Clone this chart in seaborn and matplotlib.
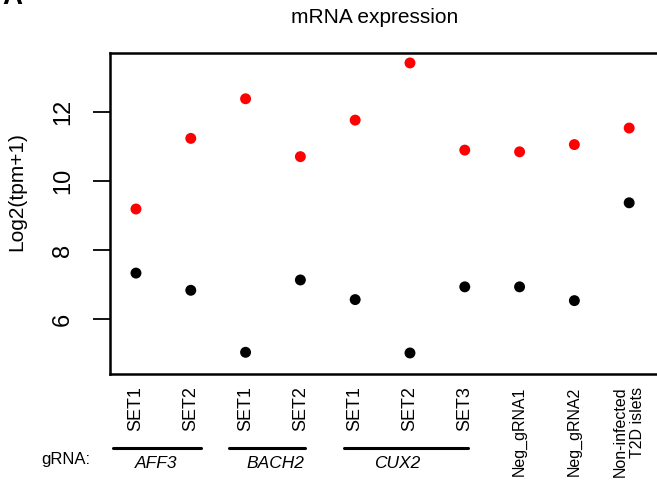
import numpy as np
import pandas as pd
import matplotlib
matplotlib.use("Agg")
import matplotlib.pyplot as plt
import matplotlib.transforms as mtransforms
import seaborn as sns

# ---- data ----
categories = ["SET1", "SET2", "SET1", "SET2", "SET1", "SET2", "SET3",
              "Neg_gRNA1", "Neg_gRNA2", "Non-infected\nT2D islets"]
red_values = [9.19, 11.24, 12.39, 10.71, 11.77, 13.43, 10.90, 10.85, 11.06, 11.54]
black_values = [7.33, 6.83, 5.03, 7.13, 6.56, 5.01, 6.93, 6.93, 6.53, 9.37]
series_names = ["red", "black"]
yticks = [6, 8, 10, 12]
gene_groups = ["AFF3", "BACH2", "CUX2"]

sns.set_theme(style="white")
plt.rcParams["font.family"] = ["Liberation Sans", "DejaVu Sans"]
plt.rcParams["text.color"] = "black"
plt.rcParams["axes.labelcolor"] = "black"

pos = np.arange(1, len(categories) + 1)
df = pd.DataFrame({
    "x": np.concatenate([pos, pos]),
    "value": red_values + black_values,
    "series": [series_names[0]] * len(pos) + [series_names[1]] * len(pos),
})

fig = plt.figure(figsize=(6.57, 4.96), dpi=100)
x_lo, x_hi = 0.526, 10.75
px_per_unit = 54.8
ax_w = (x_hi - x_lo) * px_per_unit
ax = fig.add_axes([110 / 657, 1 - 374 / 496, ax_w / 657, (374 - 53.3) / 496])

sns.scatterplot(data=df, x="x", y="value", hue="series",
                palette={"red": "#ff0000", "black": "#000000"},
                s=62, linewidth=0, legend=False, ax=ax, zorder=3)

ax.set_xlim(x_lo, x_hi)
ax.set_ylim(4.40, 13.71)
ax.set_xlabel("")
ax.set_ylabel("Log2(tpm+1)", fontsize=15, color="black")
ax.yaxis.set_label_coords(-84 / ax_w, (374 - 192) / 320.7)

for side in ["left", "bottom", "top"]:
    ax.spines[side].set_visible(True)
    ax.spines[side].set_color("black")
    ax.spines[side].set_linewidth(1.8)
ax.spines["right"].set_visible(False)

ax.set_yticks(yticks)
ax.set_yticklabels([str(t) for t in yticks], rotation=90, va="center", fontsize=17)
ax.tick_params(axis="y", which="both", left=True, length=12, width=1.3,
               color="black", pad=14, labelcolor="black")

ax.set_xticks(pos)
ax.set_xticklabels(categories, rotation=90, va="top", ha="center",
                   multialignment="right")
for i, lab in enumerate(ax.get_xticklabels()):
    lab.set_fontsize(13 if i < 7 else 11.5)
ax.tick_params(axis="x", which="both", bottom=False, length=0, pad=9, labelcolor="black")

ax.set_title("mRNA expression", fontsize=15, pad=22, color="black",
             x=(375 - 110) / ax_w)

trans = mtransforms.blended_transform_factory(ax.transData, ax.transAxes)
line_y = -(447.7 - 374) / 320.7
text_y = -(463 - 374) / 320.7
group_lines = [(0.58, 2.19), (2.70, 4.09), (4.79, 7.05)]
group_text_x = [1.36, 3.55, 5.77]
for name, (x0, x1), tx in zip(gene_groups, group_lines, group_text_x):
    ax.plot([x0, x1], [line_y, line_y], color="black", lw=2.2,
            transform=trans, clip_on=False)
    ax.text(tx, text_y, name, style="italic", fontsize=12.5, ha="center", va="center",
            transform=trans)
ax.text(0.16, text_y + 0.01, "gRNA:", fontsize=12, ha="right", va="center", transform=trans)

fig.text(0.003, 1 - 4 / 496, "A", fontsize=20, fontweight="bold", va="baseline", ha="left")

fig.savefig("out.png", dpi=100)
